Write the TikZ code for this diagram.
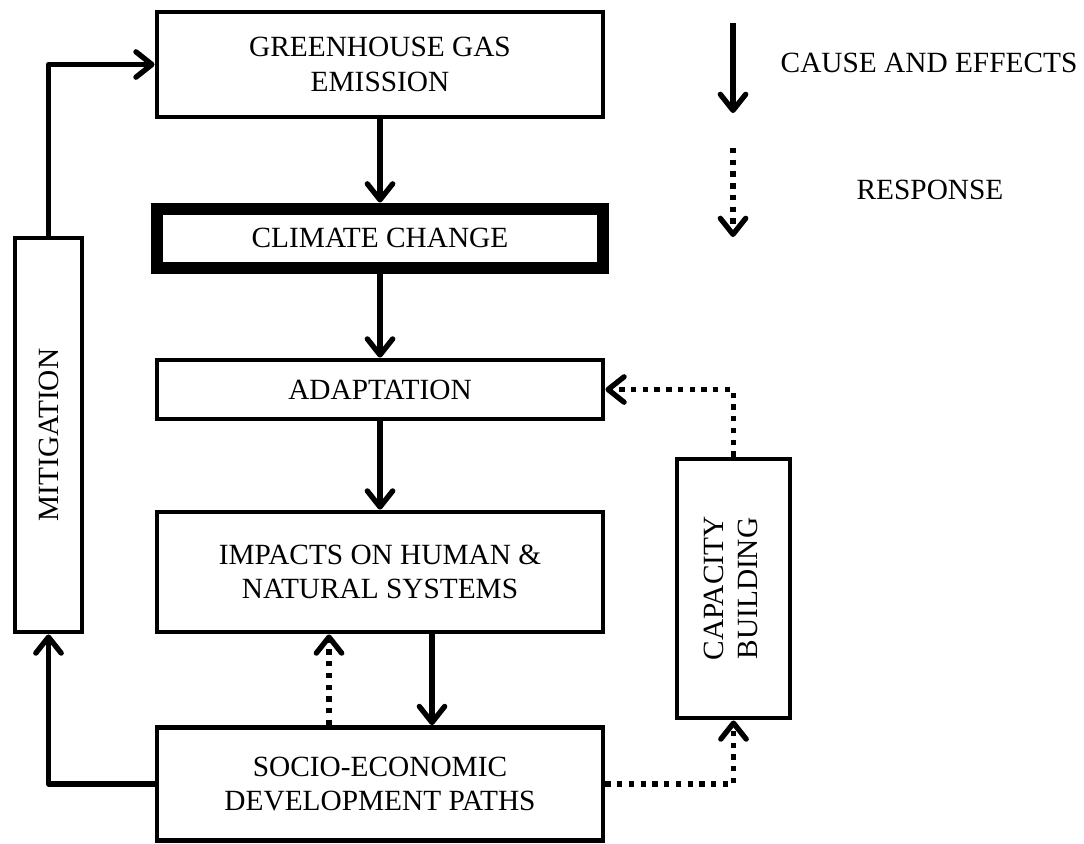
\documentclass[tikz,border=0pt]{standalone}
\usepackage{fontspec}
\setmainfont{Liberation Serif}
\usepackage{graphicx}
\usetikzlibrary{arrows.meta}
\begin{document}
\begin{tikzpicture}[x=0.75pt,y=-0.75pt,
  every node/.style={font=\fontsize{22}{26}\selectfont},
  box/.style={draw,line width=3.6pt,inner sep=0pt,align=center,minimum width=334.5pt},
  thickbox/.style={draw,line width=9pt,inner sep=0pt,align=center,minimum width=334.5pt},
  tip/.style={-{Straight Barb[length=12pt,width=19pt,line cap=round,line join=round]}},
  arr/.style={tip,line width=4pt},
  dotarr/.style={tip,line width=4pt,dash pattern=on 4pt off 4.8pt}
]
\useasboundingbox (0,0) rectangle (1084,843);
\node[box,minimum height=78.75pt] (ghg) at (380,64.5) {GREENHOUSE GAS\\EMISSION};
\node[thickbox,minimum height=44.25pt] (cc) at (380,238) {CLIMATE CHANGE};
\node[box,minimum height=44.25pt] (ad) at (380,389.5) {ADAPTATION};
\node[box,minimum height=90pt] (imp) at (380,572) {IMPACTS ON HUMAN \&\\NATURAL SYSTEMS};
\node[box,minimum height=84.75pt] (se) at (380,784) {SOCIO-ECONOMIC\\DEVELOPMENT PATHS};
\node[box,minimum width=50.25pt,minimum height=295.5pt] (mit) at (48.5,435) {\rotatebox{90}{MITIGATION}};
\node[box,minimum width=84.75pt,minimum height=194.25pt] (cb) at (733.5,588.5) {\rotatebox{90}{\begin{tabular}{@{}c@{}}CAPACITY\\BUILDING\end{tabular}}};
% legend
\coordinate (l1a) at (733,23);
\coordinate (l1b) at (733,113);
\coordinate (l2a) at (733,148);
\coordinate (l2b) at (733,237);
\node (t1) at (929,63) {CAUSE AND EFFECTS};
\node (t2) at (930,190) {RESPONSE};
\draw[arr] (l1a) -- (l1b);
\draw[dotarr] (l2a) -- (l2b);
% connectors
\coordinate (xs) at (432,0);
\coordinate (xd) at (329,0);
\draw[arr] (ghg.south) -- (cc.north);
\draw[arr] (cc.south) -- (ad.north);
\draw[arr] (ad.south) -- (imp.north);
\draw[arr] (imp.south -| xs) -- (se.north -| xs);
\draw[dotarr] (se.north -| xd) -- (imp.south -| xd);
\draw[arr,line join=round] (mit.north) |- (ghg.west);
\draw[arr,line join=round] (se.west) -| (mit.south);
\draw[dotarr] (se.east) -| (cb.south);
\draw[dotarr] (cb.north) |- (ad.east);
\end{tikzpicture}
\end{document}
